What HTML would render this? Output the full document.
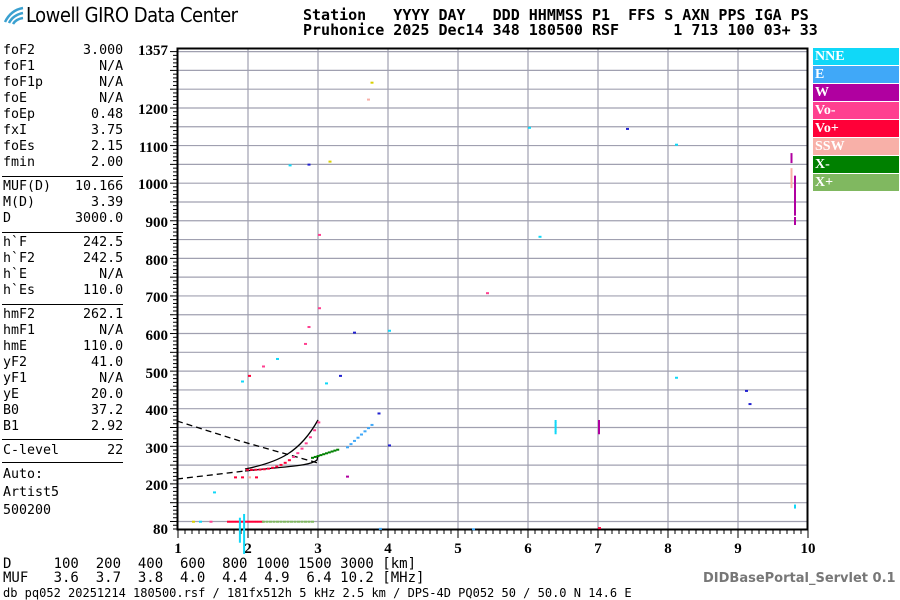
<!DOCTYPE html>
<html><head><meta charset="utf-8"><style>
body{margin:0;background:#fff;width:900px;height:600px;overflow:hidden;position:relative;font-family:"DejaVu Sans Mono","Liberation Mono",monospace}
.t{position:absolute;white-space:pre;font-size:13.3px;color:#000}
.hd{position:absolute;white-space:pre;font-size:15px;font-weight:bold;line-height:15px;font-family:"DejaVu Sans Mono",monospace}
.lg{position:absolute;left:813px;width:86px;height:17px;color:#fff;font:bold 14px "Liberation Serif",serif;line-height:17px;padding-left:2px;box-sizing:border-box}
</style></head><body>
<svg width="24" height="22" style="position:absolute;left:3px;top:4px"><path d="M2 18 Q8 6 20 4" stroke="#3aa0d0" stroke-width="2.5" fill="none"/><path d="M6 19 Q10 11 20 9" stroke="#3aa0d0" stroke-width="2.5" fill="none"/><path d="M10 20 Q13 15 20 14" stroke="#3aa0d0" stroke-width="2.5" fill="none"/></svg>
<div class="t" style="left:26px;top:3px;font:20px 'DejaVu Sans Condensed','Liberation Sans Narrow',sans-serif;letter-spacing:-0.5px">Lowell GIRO Data Center</div>
<div class="hd" style="left:303px;top:8px">Station   YYYY DAY   DDD HHMMSS P1  FFS S AXN PPS IGA PS
Pruhonice 2025 Dec14 348 180500 RSF      1 713 100 03+ 33</div>
<div class="t" style="left:3px;top:43px;line-height:16px">foF2      3.000
foF1        N/A
foF1p       N/A
foE         N/A
foEp       0.48
fxI        3.75
foEs       2.15
fmin       2.00</div>
<div style="position:absolute;left:2px;top:176px;width:121px;border-top:1px solid #000"></div>
<div class="t" style="left:3px;top:179px;line-height:16px">MUF(D)   10.166
M(D)       3.39
D        3000.0</div>
<div style="position:absolute;left:2px;top:232px;width:121px;border-top:1px solid #000"></div>
<div class="t" style="left:3px;top:235px;line-height:16px">h`F       242.5
h`F2      242.5
h`E         N/A
h`Es      110.0</div>
<div style="position:absolute;left:2px;top:304px;width:121px;border-top:1px solid #000"></div>
<div class="t" style="left:3px;top:307px;line-height:16px">hmF2      262.1
hmF1        N/A
hmE       110.0
yF2        41.0
yF1         N/A
yE         20.0
B0         37.2
B1         2.92</div>
<div style="position:absolute;left:2px;top:439px;width:121px;border-top:1px solid #000"></div>
<div class="t" style="left:3px;top:443px">C-level      22</div>
<div style="position:absolute;left:2px;top:462px;width:121px;border-top:1px solid #000"></div>
<div class="t" style="left:3px;top:466px;line-height:18px">Auto:
Artist5
500200</div>
<svg width="900" height="600" style="position:absolute;left:0;top:0" font-family="Liberation Serif,serif" font-weight="bold" font-size="15">
<g id="g" stroke="#a0a0b0" stroke-width="1.2"></g>
<rect x="177.5" y="48.5" width="630" height="481" fill="none" stroke="#000" stroke-width="2"/>
<g id="tk" stroke="#000" stroke-width="1"></g>
<g text-anchor="end">
<text x="168" y="55">1357</text><text x="168" y="114">1200</text><text x="168" y="152">1100</text><text x="168" y="189">1000</text><text x="168" y="227">900</text><text x="168" y="265">800</text><text x="168" y="302">700</text><text x="168" y="340">600</text><text x="168" y="378">500</text><text x="168" y="415">400</text><text x="168" y="453">300</text><text x="168" y="490">200</text><text x="168" y="534">80</text>
</g>
<g text-anchor="middle">
<text x="178" y="553">1</text><text x="248" y="553">2</text><text x="318" y="553">3</text><text x="388" y="553">4</text><text x="458" y="553">5</text><text x="528" y="553">6</text><text x="598" y="553">7</text><text x="668" y="553">8</text><text x="738" y="553">9</text><text x="808" y="553">10</text>
</g>
<g fill="none" stroke="#000" stroke-width="1.3">
<path d="M177 421 L 240 441 L318 463" stroke-dasharray="6,4"/>
<path d="M177 479 L245 471" stroke-dasharray="6,4"/>
<path d="M245 471 C290 466 310 466 317 460 L318 456"/>
<path d="M245 469 C280 462 300 452 318 420"/>
</g>
<g id="pts"></g>
</svg>
<div class="lg" style="top:48px;background:#10d8f8">NNE</div>
<div class="lg" style="top:66px;background:#40a8f8">E</div>
<div class="lg" style="top:84px;background:#b000a0">W</div>
<div class="lg" style="top:102px;background:#ff4090">Vo-</div>
<div class="lg" style="top:120px;background:#ff0038">Vo+</div>
<div class="lg" style="top:138px;background:#f8b0a8">SSW</div>
<div class="lg" style="top:156px;background:#008000">X-</div>
<div class="lg" style="top:174px;background:#80b860">X+</div>
<div class="t" style="left:3px;top:557px;line-height:14px;font-size:14px">D     100  200  400  600  800 1000 1500 3000 [km]
MUF   3.6  3.7  3.8  4.0  4.4  4.9  6.4 10.2 [MHz]</div>
<div class="t" style="left:3px;top:586px;font-size:12px">db pq052 20251214 180500.rsf / 181fx512h 5 kHz 2.5 km / DPS-4D PQ052 50 / 50.0 N 14.6 E</div>
<div class="t" style="left:703px;top:571px;font:bold 13px 'DejaVu Sans',sans-serif;color:#777">DIDBasePortal_Servlet 0.1</div>
<script>
var ns="http://www.w3.org/2000/svg";
function Y(h){return 529-(h-80)*0.3759}function X(f){return 178+(f-1)*70}
var g=document.getElementById('g'),tk=document.getElementById('tk'),p=document.getElementById('pts');
function ln(par,x1,y1,x2,y2){var l=document.createElementNS(ns,'line');l.setAttribute('x1',x1);l.setAttribute('y1',y1);l.setAttribute('x2',x2);l.setAttribute('y2',y2);par.appendChild(l);}
for(var f=2;f<10;f++)ln(g,X(f),49,X(f),529);
for(var h=100;h<=1350;h+=50)ln(g,178,Y(h),807,Y(h));
for(var h=80;h<=1350;h+=10)ln(tk,h%50==0?170:173,Y(h),177,Y(h));
for(var f=1;f<=10;f+=0.1)ln(tk,X(f),530,X(f),Math.abs(f-Math.round(f))<0.01?538:534);
function r(f,h,c,w,hh){var e=document.createElementNS(ns,'rect');e.setAttribute('x',X(f));e.setAttribute('y',Y(h));e.setAttribute('width',w||3);e.setAttribute('height',hh||2);e.setAttribute('fill',c);p.appendChild(e);}
var C={n:'#10d8f8',e:'#40a8f8',w:'#b000a0',m:'#ff4090',p:'#ff0038',s:'#f8b0a8',x:'#008000',X:'#80b860',y:'#d8d000',b:'#2020d0'};
for(var f=1.7;f<2.2;f+=0.04)r(f,102,C.p);
for(var f=2.2;f<2.9;f+=0.05)r(f,102,C.X);
r(1.2,102,C.y);r(1.3,102,C.n);r(1.45,102,C.m);
for(var f=1.97;f<3;f+=0.06){var h=240+Math.pow((f-1.97)/1.03,3)*130;r(f,h,f>2.6?C.m:C.p);}
for(var f=2.9;f<3.3;f+=0.04)r(f,272+(f-2.9)*60,C.x);
for(var f=3.4;f<3.75;f+=0.05)r(f,300+(f-3.4)*170,C.e);
r(1.8,220,C.p);r(1.9,220,C.p);r(2.0,220,C.s);r(2.1,220,C.p);
for(var h=370;h>=340;h-=6){r(6.38,h,C.n,2,3);r(7.0,h,C.w,2,3);}
r(9.75,1080,C.w,2,10);r(9.75,1040,C.s,2,20);r(9.8,1020,C.w,2,40);r(9.8,910,C.w,2,8);
r(3.75,1270,C.y);r(3.7,1225,C.s);r(2.58,1050,C.n);r(2.85,1052,C.b);r(3.15,1060,C.y);
r(6.0,1150,C.n);r(7.4,1147,C.b);r(8.1,1105,C.n);r(6.15,860,C.n);r(3.0,865,C.m);r(5.4,710,C.m);
r(4.0,610,C.n);r(3.5,605,C.b);r(9.1,450,C.b);r(9.15,415,C.b);r(8.1,485,C.n);r(9.8,145,C.n,2,4);
r(1.9,475,C.n);r(2.0,490,C.p);r(2.2,515,C.m);r(2.4,535,C.n);r(2.8,575,C.m);r(2.85,620,C.m);r(3.0,670,C.m);
r(3.1,470,C.n);r(3.3,490,C.b);r(3.85,390,C.b);r(4.0,305,C.b);r(3.4,222,C.w);r(1.5,180,C.n);
r(1.93,120,C.n,2,40);r(1.87,110,C.n,2,25);r(3.87,83,C.e);r(5.2,82,C.e);r(7.0,85,C.p);
</script>
</body></html>
